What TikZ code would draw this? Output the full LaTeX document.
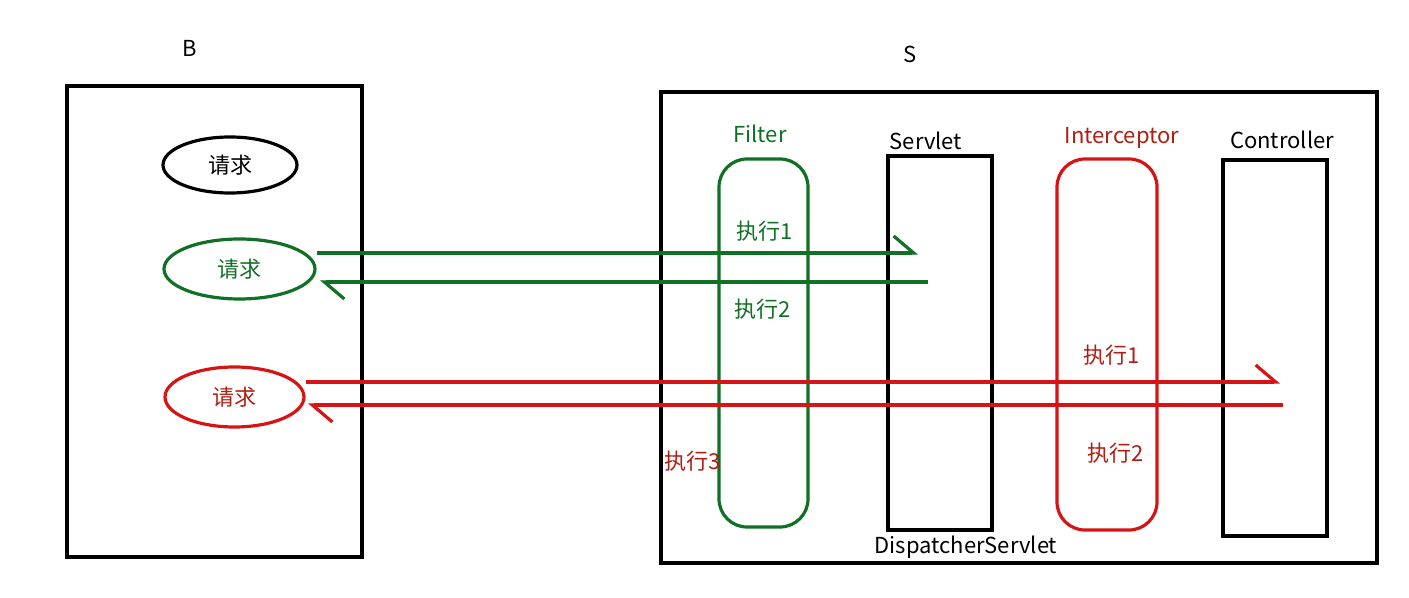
\documentclass[tikz,border=0pt]{standalone}
\usepackage{fontspec}
\setmainfont{Noto Sans CJK SC}
\usetikzlibrary{shapes.geometric,arrows.meta,positioning}
\definecolor{filtergreen}{RGB}{16,112,36}
\definecolor{chainred}{RGB}{214,20,20}
\definecolor{textred}{RGB}{176,30,20}

\begin{document}
\begin{tikzpicture}[%
    x=0.5pt, y=-0.5pt,          % one unit is one pixel of the sketch
    >={Straight Barb[harpoon, length=10pt, width=17pt]}, % half barbs, as drawn by hand
    line width=1.6pt,
    font=\fontsize{11}{13}\selectfont,
    ]
% -------------------------------------------------
% Box and label styles
\tikzset{
  box/.style={draw, rectangle, inner sep=0pt},
  req/.style={draw, ellipse, inner sep=0pt, minimum height=30pt},
  chain/.style={draw, rectangle, rounded corners=14pt, inner sep=0pt},
  green/.style={filtergreen},
  red/.style={chainred},
  lbl/.style={inner sep=0pt},
}
\useasboundingbox (0,0) rectangle (1409,598);
% -------------------------------------------------
% Browser side
\node[lbl] (blabel) at (190,48) {B};
\node[box, minimum width=147.5pt, minimum height=235.5pt] (browser) at (214.5,321.5) {};
\node[req, minimum width=67pt, minimum height=28pt] (req0) at (230,165) {请求};
\node[req, green, minimum width=75.5pt, text=filtergreen] (req1) at (239.5,269) {请求};
\node[req, red, minimum width=69.5pt, text=textred] (req2) at (234.5,397) {请求};
% -------------------------------------------------
% Server side
\node[lbl] (slabel) at (910,54) {S};
\node[box, minimum width=358pt, minimum height=235.5pt] (server) at (1019,327.5) {};
\node[box, minimum width=52pt, minimum height=187pt] (servlet) at (940,343) {};
\node[box, minimum width=52pt, minimum height=188pt] (controller) at (1275,348) {};
\node[chain, green, minimum width=44.5pt, minimum height=184pt] (filter) at (763.5,343) {};
\node[chain, red, minimum width=50pt, minimum height=185.5pt] (interceptor) at (1107,344.5) {};
% names of the parts
\node[lbl, text=filtergreen] (filterlbl) at (760,134) {Filter};
\node[lbl] (servletlbl) at (926,141) {Servlet};
\node[lbl, text=textred] (interlbl) at (1122,138) {Interceptor};
\node[lbl] (controllbl) at (1282,140) {Controller};
\node[lbl] (dispatchlbl) at (966,547) {DispatcherServlet};
% -------------------------------------------------
% Request paths
\coordinate (gfwd) at (918,253);
\coordinate (gturn) at (928,282);
\coordinate (gback) at (320,282);
\coordinate (rfwd) at (1280,382);
\coordinate (rturn) at (1283,405);
\coordinate (rback) at (308,405);
\draw[->, filtergreen] (req1.east |- gfwd) -- (gfwd);
\draw[->, filtergreen] (gturn) -- (gback);
\draw[->, chainred] (req2.east |- rfwd) -- (rfwd);
\draw[->, chainred] (rturn) -- (rback);
% step labels
\node[lbl, text=filtergreen] (gstep1) at (765,231) {执行1};
\node[lbl, text=filtergreen] (gstep2) at (763,309) {执行2};
\node[lbl, text=textred] (rstep1) at (1112,355) {执行1};
\node[lbl, text=textred] (rstep2) at (1116,453) {执行2};
\node[lbl, text=textred] (rstep3) at (693,461) {执行3};
% -------------------------------------------------
\end{tikzpicture}
\end{document}
